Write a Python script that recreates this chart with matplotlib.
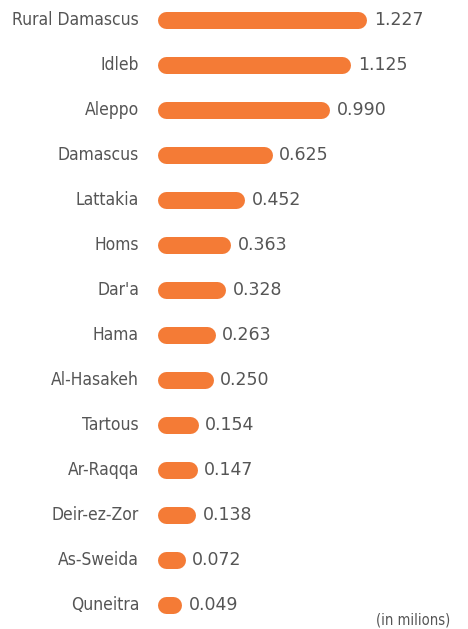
import matplotlib
matplotlib.use("Agg")
import matplotlib.pyplot as plt

regions = ["Rural Damascus", "Idleb", "Aleppo", "Damascus", "Lattakia", "Homs",
           "Dar'a", "Hama", "Al-Hasakeh", "Tartous", "Ar-Raqqa", "Deir-ez-Zor",
           "As-Sweida", "Quneitra"]
values = [1.227, 1.125, 0.990, 0.625, 0.452, 0.363, 0.328, 0.263, 0.250,
          0.154, 0.147, 0.138, 0.072, 0.049]

W, H = 468, 629
dpi = 100
px_per_unit = 157.0
x0 = 165.5          # pixel where value 0 sits (cap extends left of it)
row0, row_step = 20.0, 45.0
bar_h = 17          # px
orange = "#F47B36"
grey = "#555555"

fig = plt.figure(figsize=(W / dpi, H / dpi), dpi=dpi)
ax = fig.add_axes([0, 0, 1, 1])
ax.set_xlim(-x0 / px_per_unit, (W - x0) / px_per_unit)
ax.set_ylim((H - row0) / row_step, -row0 / row_step)
ax.axis("off")

lw = bar_h * 72 / dpi
half = bar_h / 2 / px_per_unit
for i, (name, v) in enumerate(zip(regions, values)):
    ax.plot([0, v], [i, i], color=orange, lw=lw, solid_capstyle="round")
    ax.text(-(x0 - 139) / px_per_unit, i, name, ha="right", va="center",
            fontsize=12.5, color=grey, fontstretch="condensed")
    ax.text(v + half + 7 / px_per_unit, i, f"{v:.3f}", ha="left", va="center",
            fontsize=12.5, color=grey)

ax.text((450 - x0) / px_per_unit, (620 - row0) / row_step, "(in milions)",
        ha="right", va="center", fontsize=10.5, color=grey, fontstretch="condensed")

fig.savefig("out.png", dpi=dpi)
